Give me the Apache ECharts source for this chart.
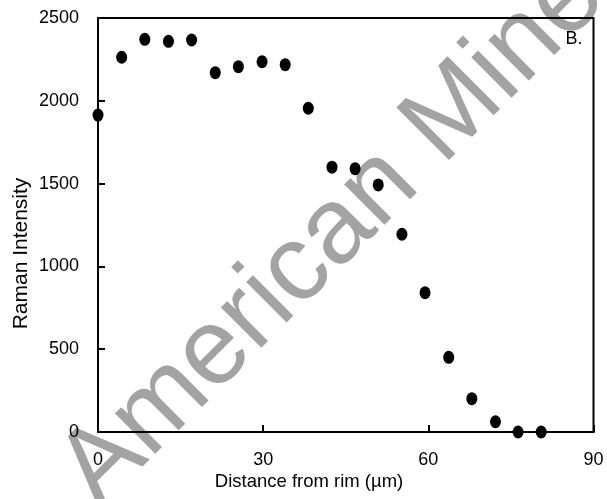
<!DOCTYPE html>
<html>
<head>
<meta charset="utf-8">
<script src="https://cdn.jsdelivr.net/npm/echarts@6/dist/echarts.min.js"></script>
<style>html,body{margin:0;padding:0;background:#fff;}#c{width:607px;height:499px;}</style>
</head>
<body>
<div id="c"></div>
<script>
// Distance from rim (µm)
const distance = [0, 4.3, 8.5, 12.8, 17.0, 21.3, 25.5, 29.8, 34.0, 38.2, 42.5, 46.7, 50.9, 55.2, 59.4, 63.7, 67.9, 72.2, 76.3, 80.5];
// Raman intensity
const intensity = [1914, 2263, 2371, 2359, 2367, 2170, 2206, 2236, 2218, 1955, 1599, 1590, 1492, 1194, 841, 451, 201, 62, 0, 0];
const xTicks = [0, 30, 60, 90];
const yTicks = [0, 500, 1000, 1500, 2000, 2500];
const xTitle = 'Distance from rim (µm)';
const yTitle = 'Raman Intensity';
const panelLabel = 'B.';

const FONT = '"Liberation Sans", Arial, Helvetica, sans-serif';
const chart = echarts.init(document.getElementById('c'), null, {renderer: 'canvas'});
const points = distance.map((d, i) => [d, intensity[i]]);

chart.setOption({
  animation: false,
  backgroundColor: '#ffffff',
  grid: {left: 98, right: 13.5, top: 18, bottom: 67, show: true, borderColor: '#000', borderWidth: 2, backgroundColor: 'transparent', z: 3},
  xAxis: {
    type: 'value', min: xTicks[0], max: xTicks[xTicks.length - 1], interval: 30,
    axisLine: {show: true, onZero: false, lineStyle: {color: '#000', width: 2}},
    axisTick: {show: true, inside: true, length: 7, lineStyle: {color: '#000', width: 2}},
    axisLabel: {color: '#000', fontSize: 18, fontFamily: FONT, margin: 19, formatter: v => String(v)},
    splitLine: {show: false}
  },
  yAxis: {
    type: 'value', min: yTicks[0], max: yTicks[yTicks.length - 1], interval: 500,
    axisLine: {show: true, lineStyle: {color: '#000', width: 2}},
    axisTick: {show: true, inside: true, length: 7, lineStyle: {color: '#000', width: 2}},
    axisLabel: {color: '#000', fontSize: 18, fontFamily: FONT, margin: 19, formatter: v => String(v)},
    splitLine: {show: false}
  },
  graphic: [
    {type: 'text', x: 78, y: 489, rotation: Math.PI / 4, z: -10, silent: true,
     style: {text: 'American Mineralogist (MSA)', fontSize: 108, fontFamily: FONT, fill: '#a3a3a3', textAlign: 'left', textVerticalAlign: 'middle'}},
    {type: 'text', x: 78, y: 489, rotation: Math.PI / 4, z: -10, silent: true,
     style: {text: 'of the ', fontSize: 108, fontFamily: FONT, fill: '#a3a3a3', textAlign: 'right', textVerticalAlign: 'middle'}},
    {type: 'text', x: 309, y: 482, z: 10,
     style: {text: xTitle, fontSize: 18.5, fontFamily: FONT, fill: '#000', textAlign: 'center', textVerticalAlign: 'middle'}},
    {type: 'text', x: 21, y: 253.5, rotation: Math.PI / 2, z: 10,
     style: {text: yTitle, fontSize: 21, fontFamily: FONT, fill: '#000', textAlign: 'center', textVerticalAlign: 'middle'}},
    {type: 'text', x: 574, y: 39, z: 10,
     style: {text: panelLabel, fontSize: 18, fontFamily: FONT, fill: '#000', textAlign: 'center', textVerticalAlign: 'middle'}}
  ],
  series: [{
    type: 'scatter', data: points, symbol: 'circle', symbolSize: [11, 13],
    itemStyle: {color: '#000', opacity: 1}, z: 5, clip: false
  }]
});
</script>
</body>
</html>
